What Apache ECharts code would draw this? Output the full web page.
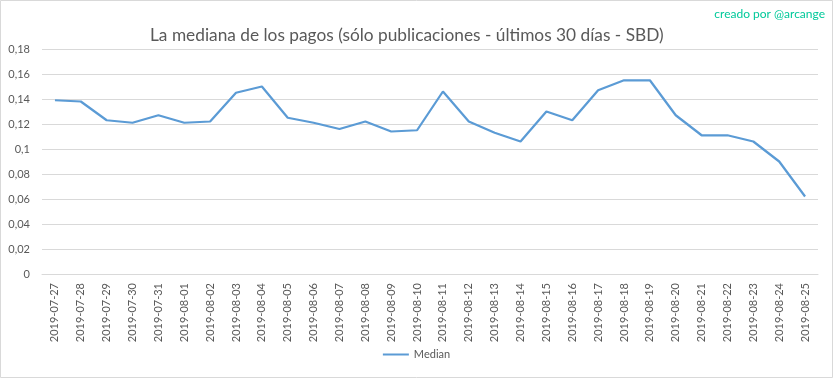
<!DOCTYPE html>
<html>
<head>
<meta charset="utf-8">
<script src="https://cdn.jsdelivr.net/npm/echarts@6/dist/echarts.min.js"></script>
<style>
  html, body { margin: 0; padding: 0; background: #fff; }
  #chart { width: 833px; height: 378px; }
</style>
</head>
<body>
<div id="chart"></div>
<script>
// fechas (eje x)
var dates = [
    '2019-07-27', '2019-07-28', '2019-07-29', '2019-07-30', '2019-07-31',
    '2019-08-01', '2019-08-02', '2019-08-03', '2019-08-04', '2019-08-05',
    '2019-08-06', '2019-08-07', '2019-08-08', '2019-08-09', '2019-08-10',
    '2019-08-11', '2019-08-12', '2019-08-13', '2019-08-14', '2019-08-15',
    '2019-08-16', '2019-08-17', '2019-08-18', '2019-08-19', '2019-08-20',
    '2019-08-21', '2019-08-22', '2019-08-23', '2019-08-24', '2019-08-25'
];
// mediana de los pagos (SBD)
var median = [
    0.139, 0.138, 0.123, 0.121, 0.127,
    0.121, 0.122, 0.145, 0.150, 0.125,
    0.121, 0.116, 0.122, 0.114, 0.115,
    0.146, 0.122, 0.113, 0.106, 0.130,
    0.123, 0.147, 0.155, 0.155, 0.127,
    0.111, 0.111, 0.106, 0.090, 0.062
];
var yMin = 0, yMax = 0.18, yStep = 0.02;

var textColor = '#595959';
var gridColor = '#d9d9d9';
var font = 'Lato';

var myChart = echarts.init(document.getElementById('chart'));
var option = {
    backgroundColor: '#fff',
    animation: false,
    title: {
        text: 'La mediana de los pagos (sólo publicaciones - últimos 30 días - SBD)',
        left: 145,
        top: 22,
        textStyle: { color: textColor, fontSize: 17.3, fontWeight: 'normal', fontFamily: font }
    },
    graphic: [
        {
            type: 'text',
            right: 8,
            top: 8,
            style: { text: 'creado por @arcange', fill: '#00c99a', fontSize: 12, fontFamily: font }
        },
        {
            type: 'rect',
            shape: { x: 0.5, y: 0.5, width: 832, height: 377 },
            style: { fill: null, stroke: gridColor, lineWidth: 1 },
            silent: true
        }
    ],
    legend: {
        bottom: 13,
        left: 'center',
        icon: 'rect',
        itemWidth: 26,
        itemHeight: 2,
        textStyle: { color: textColor, fontSize: 11, fontFamily: font },
        data: ['Median']
    },
    grid: { left: 42, right: 15, top: 49, bottom: 104, containLabel: false },
    xAxis: {
        type: 'category',
        data: dates,
        boundaryGap: true,
        axisLine: { lineStyle: { color: gridColor } },
        axisTick: { show: false },
        axisLabel: {
            interval: 0,
            rotate: 90,
            color: textColor,
            fontSize: 11,
            fontFamily: font,
            margin: 9
        }
    },
    yAxis: {
        type: 'value',
        min: yMin,
        max: yMax,
        interval: yStep,
        axisLine: { show: false },
        axisTick: { show: false },
        splitLine: { lineStyle: { color: gridColor } },
        axisLabel: {
            color: textColor,
            fontSize: 11,
            fontFamily: font,
            margin: 12,
            formatter: function (v) {
                return (Math.round(v * 100) / 100).toString().replace('.', ',');
            }
        }
    },
    series: [
        {
            name: 'Median',
            type: 'line',
            data: median,
            symbol: 'none',
            lineStyle: { color: '#5b9bd5', width: 2.25 },
            itemStyle: { color: '#5b9bd5' }
        }
    ]
};
myChart.setOption(option);
</script>
</body>
</html>
